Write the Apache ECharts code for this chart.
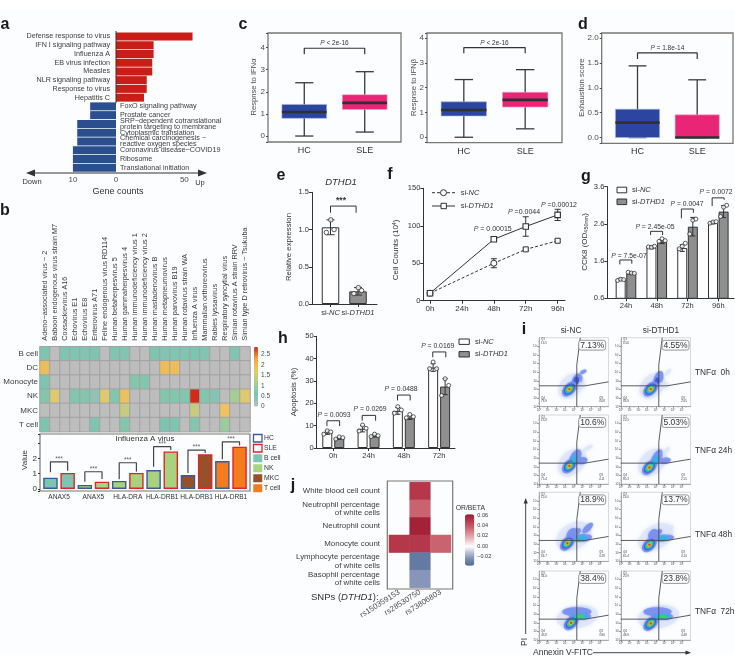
<!DOCTYPE html>
<html><head><meta charset="utf-8"><style>html,body{margin:0;padding:0;background:#fff}#c{width:735px;height:666px}</style>
<script src="https://cdn.jsdelivr.net/npm/echarts@6/dist/echarts.min.js"></script></head><body><div id="c"></div>
<script>
const FONT='"Liberation Sans",Arial,sans-serif', INK='#333', GREY='#4d4d4d', FRAME='#7a7772';
// ---- a
const upPathways=['Defense response to virus','IFN I signaling pathway','Influenza A','EB virus infection','Measles','NLR signaling pathway','Response to virus','Hepatitis C'];
const upCounts=[56,27.5,27.5,26.5,26.5,22.5,22.5,20.5];
const downPathways=['FoxO signaling pathway','Prostate cancer','SRP−dependent cotranslational\nprotein targeting to membrane','Cytoplasmic translation','Chemical carcinogenesis −\nreactive oxygen species','Coronavirus disease−COVID19','Ribosome','Translational initiation'];
const downCounts=[6,6,9,9,9,10,10,10];
// ---- b heatmap
const viruses=['Adeno−associated virus − 2','Baboon endogenous virus strain M7','Coxsackievirus A16','Echovirus E1','Echovirus E8','Enterovirus A71','Feline endogenous virus RD114','Human betaherpesvirus 5','Human gammaherpesvirus 4','Human immunodeficiency virus 1','Human immunodeficiency virus 2','Human mastadenovirus B','Human metapneumovirus','Human parvovirus B19','Human rotavirus strain WA','Influenza A virus','Mammalian orthoreovirus','Rabies lyssavirus','Respiratory syncytial virus','Simian rotavirus A strain RRV','Simian type D retrovirus − Tsukuba'];
const cellTypes=['B cell','DC','Monocyte','NK','MKC','T cell'];
const heatBcell=[.6,0,.6,.55,.55,.6,0,.55,.55,0,0,.6,.55,.55,.55,.6,.55,0,0,.55,0];
const heatDC=[1.9,0,0,0,0,0,0,0,0,0,0,0,1.9,1.9,0,0,0,0,0,0,0];
const heatMono=[.6,0,0,0,0,0,0,0,0,.65,.65,0,0,0,0,0,0,0,0,0,0];
const heatNK=[.65,1.6,0,.65,.65,.4,1.6,.65,1.85,0,0,0,.65,.65,.65,2.85,.65,.5,0,1.1,1.6];
const heatMKC=[0,0,0,0,0,0,0,0,1.4,0,0,0,0,0,0,1.4,0,0,1.8,0,0];
const heatT=[.6,0,0,0,0,.6,0,0,.65,0,0,0,.6,.6,0,.65,0,0,1.0,0,0];
const heatRows=[heatBcell,heatDC,heatMono,heatNK,heatMKC,heatT];
const heatTicks=[0,.5,1,1.5,2,2.5];
// ---- b bars
const fluGenes=['ANAX5','ANAX5','HLA-DRA','HLA-DRB1','HLA-DRB1','HLA-DRB1'];
const fluCellColor=['#7cc5b2','#a9d27f','#a9d27f','#a9d27f','#97512a','#f47c1c'];
const fluHC=[.74,.27,.53,1.24,.91,1.83];
const fluSLE=[1.05,.48,1.05,2.46,2.27,2.77];
const fluBrTop=[1.78,1.13,1.72,2.77,2.55,3.09], fluBrL=[1.1,.47,.64,1.45,1.05,1.95], fluBrR=[1.2,.65,1.15,2.55,2.35,2.85];
// ---- c d boxes: min q1 median q3 max
const boxNames=['HC','SLE'];
const ifnaHC=[0,.8,1.09,1.43,2.41], ifnaSLE=[.18,1.2,1.5,1.87,2.91];
const ifnbHC=[0,.86,1.1,1.43,2.33], ifnbSLE=[.34,1.22,1.51,1.82,2.73];
const exhHC=[0,0,.3,.57,1.44], exhSLE=[0,0,0,.456,1.16];
// ---- e
const eMeans=[1.03,.17], eSd=[.1,.05], ePoints=[[.96,1.13,1.0],[.14,.22,.18]];
// ---- f
const hours5=['0h','24h','48h','72h','96h'], fHours=[0,2,3,4];
const fNC=[10,50,68.5,80], fDT=[10,82,99,114.5], fNCerr=[1.5,6,2,2], fDTerr=[1.5,3,13,7.5];
// ---- g
const gGroups=['24h','48h','72h','96h'];
const gNC=[1.11,1.97,1.95,2.63], gDT=[1.27,2.12,2.525,2.93];
const gNCerr=[.03,.04,.09,.03], gDTerr=[.03,.05,.25,.16];
const gNCpts=[[1.08,1.11,1.1],[1.98,1.97,2.0],[1.93,2.0,2.08],[2.62,2.65,2.66]];
const gDTpts=[[1.3,1.28,1.27],[2.13,2.2,2.15],[2.33,2.7,2.73],[2.8,3.05,3.1]];
// ---- h
const hGroups=['0h','24h','48h','72h'];
const hNC=[6.9,8.6,16.6,36], hDT=[4.4,5.5,13.6,27.5];
const hNCerr=[.8,1.4,1.5,1.7], hDTerr=[.5,.6,.8,3.6];
const hNCpts=[[6.2,7.7,7.2],[7.6,10.3,8.8],[15.6,18.5,17],[35.5,38.5,35.5]];
const hDTpts=[[4,5,4.6],[5.1,6.2,5.5],[13.5,15,14],[23.5,31,28]];
// ---- j
const snps=['rs150359153','rs28530750','rs73806803'];
const traits=['White blood cell count','Neutrophil percentage\nof white cells','Neutrophil count','Monocyte count','Lymphocyte percentage\nof white cells','Basophil percentage\nof white cells'];
const jCol2=[.05,.036,.06,.05,-.031,-.022];
const jMono=[.05,.05,.036];
// ---- i flow: blobs as x, y (axis units), long, short, rotation, density level; cores are x, y
const flowPct=[['7.13%','4.55%'],['10.6%','5.03%'],['18.9%','13.7%'],['38.4%','23.8%']];
const flowQ1=[['13.5','8.56'],['13.8','10.5'],['15.0','16.6'],['34.0','20.9']];
const flowQ4=[['78.9','83.9'],['75.4','85.3'],['66.7','65.4'],['43.8','48.9']];
const flowQ3=[['4.08','2.65'],['4.11','2.55'],['3.28','4.10'],['3.86','4.48']];
const flowRows=['TNFα  0h','TNFα 24h','TNFα 48h','TNFα  72h'];
const flowCores=[[[3.5,2.04],[3.42,2.04]],[[3.5,2.1],[3.27,1.92]],[[3.27,2.1],[3.27,1.92]],[[3.7,2],[3.42,1.92]]];
const flowBlobs=[
 [[[3.7,2.4,30,21,45,0],[4.35,2.9,17,10,70,1],[4.7,2.5,12,7,0,0],[5.1,4.04,7,3.5,30,1],[4.3,3.0,8,5,80,2]],
  [[3.6,2.4,30,21,45,0],[4.3,3.2,17,9,70,1],[4.9,2.5,12,6,0,0],[5.4,4,9,3.5,50,0],[4.15,2.9,8,4,80,2]]],
 [[[3.8,2.5,33,23,45,0],[4.15,3,19,10,60,1],[4.9,2.7,12,7,10,1],[5.6,4.15,12,4,30,0],[4.1,2.9,8,4,70,3]],
  [[3.6,2.5,33,23,45,0],[4.1,3,19,9,60,1],[5.05,2.7,12,6,10,1],[5.2,3.85,10,4,50,0],[3.95,2.8,8,4,70,3]]],
 [[[4,2.9,38,26,30,0],[3.8,3.1,14,10,60,1],[4.9,2.7,21,8,5,1],[5.6,3.85,14,6,45,1],[4.9,2.7,9,3.5,5,3],[4.3,3.4,10,6,30,1]],
  [[4,2.8,38,24,30,0],[3.7,3.08,12,9,60,1],[4.9,2.7,21,7,5,1],[5.5,3.7,12,5,45,0],[4.9,2.7,9,3.5,5,3],[4.2,3.3,10,5,30,1]]],
 [[[4.4,2.7,42,23,10,0],[4.35,3.27,29,9,0,1],[4.75,2.75,22,7,0,1],[4.75,2.75,15,4.5,0,3],[4.75,2.75,9,3,0,4]],
  [[4.3,2.7,42,23,10,0],[4.2,3.27,28,9,0,1],[4.75,2.72,22,7,0,1],[4.75,2.72,15,4.5,0,3],[4.75,2.72,9,3,0,4]]]
];
const flowLevels=['#dbe2fb','#7a92ef','#3a54dc','#26b9e2','#3cd16c','#ece122','#e62d1e'];
const coreLayers=[[18,11,1],[13,8,2],[10,6,3],[7,4.5,4],[4.5,3,5],[2.5,2,6]];
const tenPowers=['10⁰','10¹','10²','10³','10⁴','10⁵','10⁶','10⁷'];
const gateV=[[4.35,0],[4.35,4.85],[4.75,8]], gateH=[[0,2.42],[5.3,2.42],[8,2.88]];

const grids=[],xAxes=[],yAxes=[],series=[],graphic=[];
const baseAxis={splitLine:{show:false},axisLine:{onZero:false,lineStyle:{color:INK,width:1}},axisTick:{lineStyle:{color:INK},length:3}};
function mergeAxis(o){return Object.assign({},baseAxis,o,{axisLine:Object.assign({},baseAxis.axisLine,o.axisLine||{}),axisTick:Object.assign({},baseAxis.axisTick,o.axisTick||{})});}
function addGrid(r,xa,ya,gridOpt){const i=grids.length;grids.push(Object.assign({left:r[0],top:r[1],width:r[2]-r[0],height:r[3]-r[1],show:false,containLabel:false},gridOpt||{}));
 xAxes.push(Object.assign(mergeAxis(xa),{gridIndex:i}));yAxes.push(Object.assign(mergeAxis(ya),{gridIndex:i}));return i;}
function ticksAxis(min,max,vals,fs,fmt,color,extra){return Object.assign({type:'value',min,max,axisLabel:{customValues:vals,fontSize:fs,fontFamily:FONT,color:color||INK,margin:3,hideOverlap:false,formatter:fmt||(v=>String(v))},axisTick:{customValues:vals}},extra||{});}
function txt(x,y,text,o){o=o||{};graphic.push({type:'text',x,y,rotation:(o.rot||0)*Math.PI/180,silent:true,z:o.z||50,style:Object.assign({text,fontFamily:FONT,fontSize:o.fs||8,fill:o.color||INK,fontWeight:o.fw||'normal',fontStyle:o.style||'normal',align:o.align||'center',verticalAlign:'middle',lineHeight:o.lh},o.rich?{rich:o.rich}:{})});}
const italicRich=(fs,color)=>({i:{fontStyle:'italic',fontSize:fs,fontFamily:FONT,fill:color||INK,color:color||INK},n:{fontSize:fs,fontFamily:FONT,color:color||INK}});
function ptxt(x,y,s,fs,color){txt(x,y,'{i|P}{n|'+s+'}',{fs:fs||7,rich:italicRich(fs||7,color||'#444')});}
function rectG(x,y,w,h,fill,stroke,lw,z){graphic.push({type:'rect',silent:true,z:z||40,shape:{x,y,width:w,height:h},style:{fill:fill,stroke:stroke,lineWidth:lw||1}});}
function lineG(pts,color,lw,dash){graphic.push({type:'polyline',silent:true,z:40,shape:{points:pts},style:{stroke:color,lineWidth:lw||1,fill:null,lineDash:dash||null}});}
function triG(pts,color){graphic.push({type:'polygon',silent:true,z:40,shape:{points:pts},style:{fill:color}});}
function bracket(g,x1,x2,top,yl,yr,color,w){series.push({type:'line',xAxisIndex:g,yAxisIndex:g,silent:true,symbol:'none',z:6,animation:false,lineStyle:{color:color||INK,width:w||1},data:[[x1,yl],[x1,top],[x2,top],[x2,yr]]});}
function errorBars(g,rows,capPx,w,z){series.push({type:'custom',xAxisIndex:g,yAxisIndex:g,silent:true,z:z||4,clip:false,data:rows,encode:{x:0,y:[1,2]},renderItem(p,api){const x=api.value(0),a=api.coord([x,api.value(1)]),b=api.coord([x,api.value(2)]);const st={stroke:INK,lineWidth:w||1,fill:null};
 return {type:'group',children:[{type:'line',shape:{x1:a[0],y1:a[1],x2:b[0],y2:b[1]},style:st},{type:'line',shape:{x1:a[0]-capPx,y1:a[1],x2:a[0]+capPx,y2:a[1]},style:st},{type:'line',shape:{x1:b[0]-capPx,y1:b[1],x2:b[0]+capPx,y2:b[1]},style:st}]};}});}
function dots(g,pts,size){series.push({type:'scatter',xAxisIndex:g,yAxisIndex:g,silent:true,z:7,clip:false,symbolSize:size||4.5,itemStyle:{color:'#fff',borderColor:INK,borderWidth:1},data:pts});}

// panel letters
[['a',5,25],['b',5,211],['c',243,25],['d',583,25],['e',281,176],['f',390,175],['g',586,177],['h',283,339],['i',524,330],['j',293,486]].forEach(l=>txt(l[1],l[2],l[0],{fs:16,fw:'bold',color:'#1a1a1a'}));
rectG(0,10,735,645,'#fbfdfe',null,0,-5);

// ===== a
const aRows=upPathways.concat(downPathways);
const aUp=addGrid([116,32,198,172],{type:'value',min:0,max:60,axisLine:{show:false},axisTick:{show:false},axisLabel:{customValues:[0,50],fontSize:8,fontFamily:FONT,color:GREY,margin:4,formatter:v=>String(v)}},
 {type:'category',inverse:true,data:aRows,axisLine:{show:false},axisTick:{show:false},axisLabel:{fontSize:7.2,fontFamily:FONT,color:'#3c3c3c',margin:6,interval:0,formatter:(v,i)=>i<8?v:''}});
series.push({type:'bar',xAxisIndex:aUp,yAxisIndex:aUp,barWidth:8,silent:true,itemStyle:{color:'#cb1d17'},data:upCounts});
const aDn=addGrid([60,32,116,172],{type:'value',inverse:true,min:0,max:13,axisLine:{show:false},axisTick:{show:false},axisLabel:{customValues:[10],fontSize:8,fontFamily:FONT,color:GREY,margin:4,formatter:v=>String(v)}},
 {type:'category',inverse:true,position:'right',data:aRows,axisLine:{show:false},axisTick:{show:false},axisLabel:{fontSize:7.2,lineHeight:6.2,fontFamily:FONT,color:'#3c3c3c',margin:4,interval:0,align:'left',formatter:(v,i)=>i>=8?v:''}});
series.push({type:'bar',xAxisIndex:aDn,yAxisIndex:aDn,barWidth:8,silent:true,itemStyle:{color:'#2b4f8e'},data:Array(8).fill(null).concat(downCounts)});
lineG([[116,31],[116,103]],'#333',1);
lineG([[33,173],[200,173]],'#333',1.2);
triG([[26,173],[35,169.5],[35,176.5]],'#333');triG([[207,173],[198,169.5],[198,176.5]],'#333');
txt(32,182,'Down',{fs:7.5});txt(200,183,'Up',{fs:7.5});txt(118,192,'Gene counts',{fs:9});

// ===== b heatmap
const hmData=[];heatRows.forEach((r,ri)=>r.forEach((v,ci)=>hmData.push([ci,ri,v])));
const hm=addGrid([40,346.7,250,431.7],{type:'category',position:'top',data:viruses,axisLine:{show:false},axisTick:{show:false},axisLabel:{interval:0,rotate:-90,fontSize:7.3,fontFamily:FONT,color:'#3c3c3c',margin:6}},
 {type:'category',inverse:true,data:cellTypes,axisLine:{show:false},axisTick:{show:false},axisLabel:{fontSize:8,fontFamily:FONT,color:'#3c3c3c',margin:2}});
const hmIdx=series.length;
series.push({type:'heatmap',xAxisIndex:hm,yAxisIndex:hm,silent:true,data:hmData,itemStyle:{borderColor:'#a2a2a2',borderWidth:1}});
addGrid([254,346.7,258,406.7],{type:'value',show:false,min:0,max:1},ticksAxis(0,2.86,heatTicks,6.5,null,GREY,{position:'right',axisLine:{show:false},axisTick:{show:false}}));

// ===== b bars
const fb=addGrid([40,434,250,491],ticksAxis(.446,6.554,[1,2,3,4,5,6],6.6,v=>fluGenes[v-1],INK,{axisLine:{show:false},axisTick:{show:false}}),
 ticksAxis(-.13,3.6,[0,1,2],8,null,INK,{axisLine:{show:false},axisTick:{length:2}}),{show:true,borderColor:FRAME,borderWidth:1.2});
series.push({type:'bar',name:'HC',xAxisIndex:fb,yAxisIndex:fb,barWidth:14.5,barGap:'-100%',silent:true,data:fluHC.map((v,i)=>({value:[i+.75,v],itemStyle:{color:fluCellColor[i],borderColor:'#3b5a9c',borderWidth:1.4}}))});
series.push({type:'bar',name:'SLE',xAxisIndex:fb,yAxisIndex:fb,barWidth:14.5,barGap:'-100%',silent:true,data:fluSLE.map((v,i)=>({value:[i+1.25,v],itemStyle:{color:fluCellColor[i],borderColor:'#e0252a',borderWidth:1.4}}))});
fluGenes.forEach((g,i)=>{bracket(fb,i+.75,i+1.25,fluBrTop[i],fluBrL[i],fluBrR[i],'#444',1.2);
 series.push({type:'scatter',xAxisIndex:fb,yAxisIndex:fb,silent:true,symbolSize:0,z:8,data:[[i+1,fluBrTop[i]]],label:{show:true,formatter:'***',position:'top',distance:-1,fontSize:6.5,fontFamily:FONT,color:INK}});});
txt(145,438.5,'Influenza A virus',{fs:8});
txt(25,460,'Value',{fs:8,rot:90});
[['HC',null,'#3b5a9c'],['SLE',null,'#e0252a'],['B cell','#7cc5b2'],['NK','#a9d27f'],['MKC','#97512a'],['T cell','#f47c1c']].forEach((l,i)=>{const y=434.5+i*10;
 rectG(253.5,y,8.5,7.5,l[1]||'#fff',l[2]||l[1],l[2]?1.3:0.5);txt(264,y+3.8,l[0],{fs:6.8,align:'left'});});

// ===== c d
function boxPanel(r,yr,ticks,fmt,hc,sle,brTop,brEnd,pTxt,py,yName,yNameX){
 const g=addGrid(r,ticksAxis(.4,2.6,[1,2],9,v=>boxNames[v-1],INK,{axisLine:{show:false},axisLabel:{customValues:[1,2],fontSize:9,fontFamily:FONT,color:INK,margin:4,formatter:v=>boxNames[v-1]},axisTick:{customValues:[1,2],length:0}}),
  ticksAxis(yr[0],yr[1],ticks,8,fmt,GREY,{axisLine:{show:false},axisTick:{length:2,lineStyle:{color:GREY}}}),{show:true,borderColor:FRAME,borderWidth:1.3});
 const rows=[[1].concat(hc),[2].concat(sle)], fills=['#2b45a0','#e92576'], edge=['#a9b6e6','#f7a5c6'];
 series.push({type:'custom',xAxisIndex:g,yAxisIndex:g,silent:true,data:rows,encode:{x:0,y:[1,2,3,4,5]},renderItem(p,api){
  const x=api.value(0),k=p.dataIndex,c=(a,b)=>api.coord([a,b]);const hw=.37,cw=.15;
  const lo=c(x-hw,api.value(2)),hi=c(x+hw,api.value(4)),mid=[c(x-hw,api.value(3)),c(x+hw,api.value(3))],wl=c(x,api.value(1)),wh=c(x,api.value(5));
  const dark={stroke:'#3a3a3a',lineWidth:1.3,fill:null};
  const seg=(a,b,s)=>({type:'line',shape:{x1:a[0],y1:a[1],x2:b[0],y2:b[1]},style:s});
  return {type:'group',children:[seg(wl,wh,dark),seg(c(x-cw,api.value(1)),c(x+cw,api.value(1)),dark),seg(c(x-cw,api.value(5)),c(x+cw,api.value(5)),dark),
   {type:'rect',shape:{x:lo[0],y:hi[1],width:hi[0]-lo[0],height:lo[1]-hi[1]},style:{fill:fills[k],stroke:edge[k],lineWidth:.6}},
   seg(mid[0],mid[1],{stroke:'#303030',lineWidth:2.6})]};}});
 bracket(g,1,2,brTop,brEnd,brEnd,'#333',1.2);
 const cx=(r[0]+r[2])/2;ptxt(cx,py,pTxt,6.5);
 txt(yNameX,(r[1]+r[3])/2-.5,yName,{fs:7.6,rot:90,color:GREY});
}
boxPanel([268,33,401,142],[-.27,4.66],[0,1,2,3,4],null,ifnaHC,ifnaSLE,3.97,3.7,' < 2e-16',43,'Respnse to IFNα',254);
boxPanel([427,33,562,142.7],[-.22,4.21],[0,1,2,3,4],null,ifnbHC,ifnbSLE,3.62,3.39,' < 2e-16',43,'Respnse to IFNβ',414);
boxPanel([601.7,33,733,143.3],[-.115,2.1],[0,.5,1,1.5,2],v=>v.toFixed(1),exhHC,exhSLE,1.70,1.58,' = 1.8e-14',48,'Exhaustion score',582);

// ===== e
const siLabels=['{n|si-}{i|NC}','{n|si-}{i|DTHD1}'];
const eg=addGrid([312,192.3,377,304],ticksAxis(.327,2.69,[1,2],7.5,v=>siLabels[v-1],INK,{axisLabel:{customValues:[1,2],fontSize:7.5,margin:5,fontFamily:FONT,color:INK,hideOverlap:false,formatter:v=>siLabels[v-1],rich:{i:{fontStyle:'italic',fontSize:7.5,fontFamily:FONT,color:INK},n:{fontSize:7.5,fontFamily:FONT,color:INK}}}}),
 ticksAxis(0,1.5,[0,.5,1,1.5],7.5,v=>v.toFixed(1),INK));
series.push({type:'bar',xAxisIndex:eg,yAxisIndex:eg,barWidth:17.5,barGap:'-100%',silent:true,data:eMeans.map((v,i)=>({value:[i+1,v],itemStyle:{color:i?'#8f8f8f':'#fff',borderColor:INK,borderWidth:1}}))});
errorBars(eg,eMeans.map((v,i)=>[i+1,v-eSd[i],v+eSd[i]]),4);
const jitter=[-.15,.01,.13];
dots(eg,ePoints.flatMap((p,i)=>p.map((v,j)=>[i+1+jitter[j],v])));
bracket(eg,1,1.93,1.315,1.225,1.225,INK,1);
txt(341,200.5,'***',{fs:8.5,fw:'bold'});
txt(341,182,'DTHD1',{fs:9.5,style:'italic'});
txt(289,247,'Relative expression',{fs:7.8,rot:90});

// ===== f
const fg=addGrid([423.3,188.3,565,300.7],ticksAxis(-.21,4.23,[0,1,2,3,4],8,v=>hours5[v],INK,{axisLabel:{customValues:[0,1,2,3,4],fontSize:8,margin:4,fontFamily:FONT,color:INK,formatter:v=>hours5[v]}}),
 ticksAxis(0,150,[0,50,100,150],7.5));
errorBars(fg,fHours.map((h,i)=>[h,fNC[i]-fNCerr[i],fNC[i]+fNCerr[i]]),3);
errorBars(fg,fHours.map((h,i)=>[h,fDT[i]-fDTerr[i],fDT[i]+fDTerr[i]]),3);
series.push({type:'line',name:'si-NC',xAxisIndex:fg,yAxisIndex:fg,silent:true,z:5,lineStyle:{color:INK,width:1,type:[3,2]},itemStyle:{color:'#fff',borderColor:INK,borderWidth:1},showAllSymbol:true,
 data:fHours.map((h,i)=>({value:[h,fNC[i]],symbol:i<2?'circle':'rect',symbolSize:i<2?6:5}))});
series.push({type:'line',name:'si-DTHD1',xAxisIndex:fg,yAxisIndex:fg,silent:true,z:5,lineStyle:{color:INK,width:1},itemStyle:{color:'#fff',borderColor:INK,borderWidth:1.1},symbol:'rect',symbolSize:5.5,showAllSymbol:true,
 data:fHours.map((h,i)=>[h,fDT[i]])});
ptxt(492.7,229.3,' = 0.00015',7);ptxt(524,212.3,' =0.0044',7);ptxt(559,204.7,' =0.00012',7);
lineG([[432,192.7],[455,192.7]],INK,1,[3,2]);graphic.push({type:'circle',silent:true,z:41,shape:{cx:443.5,cy:192.7,r:3},style:{fill:'#fff',stroke:INK}});
lineG([[432,206],[455,206]],INK,1);rectG(441,203.3,5.4,5.4,'#fff',INK,1,41);
txt(460.7,192.7,'{n|si-}{i|NC}',{align:'left',fs:7.5,rich:italicRich(7.5)});
txt(460.7,206,'{n|si-}{i|DTHD1}',{align:'left',fs:7.5,rich:italicRich(7.5)});
txt(396,250,'{n|Cell Counts (10}{s|4}{n|)}',{fs:8,rot:90,rich:{n:{fontSize:8,fontFamily:FONT,color:INK},s:{fontSize:5,fontFamily:FONT,color:INK,verticalAlign:'top'}}});

// ===== g h grouped
function grouped(r,xmin,xmax,yr,yticks,yfmt,names,nc,dt,ncE,dtE,ncP,dtP,off,bw,fs){
 const idx=names.map((n,i)=>i+1);
 const g=addGrid(r,ticksAxis(xmin,xmax,idx,fs,v=>names[v-1],INK,{axisLabel:{customValues:idx,fontSize:fs,margin:4,fontFamily:FONT,color:INK,formatter:v=>names[v-1]}}),ticksAxis(yr[0],yr[1],yticks,7.5,yfmt));
 series.push({type:'bar',name:'si-NC',xAxisIndex:g,yAxisIndex:g,barWidth:bw,barGap:'-100%',silent:true,itemStyle:{color:'#fff',borderColor:INK,borderWidth:1},data:nc.map((v,i)=>[i+1-off,v])});
 series.push({type:'bar',name:'si-DTHD1',xAxisIndex:g,yAxisIndex:g,barWidth:bw,barGap:'-100%',silent:true,itemStyle:{color:'#8f8f8f',borderColor:INK,borderWidth:1},data:dt.map((v,i)=>[i+1+off,v])});
 errorBars(g,nc.map((v,i)=>[i+1-off,v-ncE[i],v+ncE[i]]),2.5);
 errorBars(g,dt.map((v,i)=>[i+1+off,v-dtE[i],v+dtE[i]]),2.5);
 const j=[-.1,0,.1];
 dots(g,ncP.flatMap((p,i)=>p.map((v,k)=>[i+1-off+j[k],v])),4);
 dots(g,dtP.flatMap((p,i)=>p.map((v,k)=>[i+1+off+j[k],v])),4);
 return g;
}
const gg=grouped([607.3,186.7,734,298.3],.393,4.51,[.6,3.6],[.6,1.6,2.6,3.6],v=>v.toFixed(1),gGroups,gNC,gDT,gNCerr,gDTerr,gNCpts,gDTpts,.172,10,7.5);
bracket(gg,.8,1.19,1.63,1.51,1.53);bracket(gg,1.8,2.19,2.4,2.3,2.3);bracket(gg,2.8,3.19,3.0,2.75,2.9);bracket(gg,3.8,4.19,3.3,3.08,3.25);
ptxt(629,256,' = 7.5e-07',6.8);ptxt(655,227,' = 2.45e-05',6.8);ptxt(687,204,' = 0.0047',6.8);ptxt(716,192,' = 0.0072',6.8);
rectG(617,187.2,9.7,5.6,'#fff',INK,1);rectG(617,199,9.7,5.6,'#8f8f8f',INK,1);
txt(632,190,'{n|si-}{i|NC}',{align:'left',fs:7.5,rich:italicRich(7.5)});txt(632,201.8,'{n|si-}{i|DTHD1}',{align:'left',fs:7.5,rich:italicRich(7.5)});
txt(585,242,'{n|CCK8 (OD}{s|450nm}{n|)}',{fs:8,rot:90,rich:{n:{fontSize:8,fontFamily:FONT,color:INK},s:{fontSize:5.5,fontFamily:FONT,color:INK,verticalAlign:'bottom'}}});

const hg=grouped([316.7,336.3,455,448],.53,4.45,[0,50],[0,10,20,30,40,50],null,hGroups,hNC,hDT,hNCerr,hDTerr,hNCpts,hDTpts,.17,10,7.5);
bracket(hg,.82,1.18,12.2,9.8,9.8);bracket(hg,1.82,2.2,14.6,12.2,12.2);bracket(hg,2.82,3.18,23.7,21.3,21.3);bracket(hg,3.82,4.19,43,40.6,40.6);
ptxt(334,415,' = 0.0093',6.8);ptxt(370,409,' = 0.0269',6.8);ptxt(401,389.5,' = 0.0488',6.8);ptxt(437.7,346,' = 0.0169',6.8);
rectG(459,339,10.3,5.4,'#fff',INK,1);rectG(459,351.6,10.3,5.4,'#8f8f8f',INK,1);
txt(475,341.7,'{n|si-}{i|NC}',{align:'left',fs:7.5,rich:italicRich(7.5)});txt(475,354.3,'{n|si-}{i|DTHD1}',{align:'left',fs:7.5,rich:italicRich(7.5)});
txt(294,392,'Apoptosis (%)',{fs:7.8,rot:90});

// ===== j
const jg=addGrid([389,482.3,451,587.7],{type:'category',data:snps,axisLine:{show:false},axisTick:{length:3,alignWithLabel:true,interval:0,lineStyle:{color:'#333'}},axisLabel:{interval:0,rotate:32,fontSize:7.8,fontFamily:FONT,color:GREY,margin:4}},
 {type:'category',inverse:true,data:traits,axisLine:{show:false},axisTick:{length:3.5,alignWithLabel:true,interval:0,lineStyle:{color:'#333'}},axisLabel:{interval:0,fontSize:7.9,lineHeight:8.3,fontFamily:FONT,color:'#3c3c3c',margin:9}});
const jData=jCol2.map((v,i)=>[1,i,v]).concat([[0,3,jMono[0]],[2,3,jMono[2]]]);
const jIdx=series.length;
series.push({type:'heatmap',xAxisIndex:jg,yAxisIndex:jg,silent:true,data:jData,itemStyle:{opacity:1}});
rectG(387.3,481,65.4,108,null,FRAME,1.2,30);
txt(311,597,'{n|SNPs (}{i|DTHD1}{n|):}',{align:'left',fs:9.5,rich:italicRich(9.5)});
txt(455.7,508,'OR/BETA',{align:'left',fs:6.8});
addGrid([465,514.3,474.3,565.7],{type:'value',show:false,min:0,max:1},ticksAxis(-.037,.0615,[-.02,0,.02,.04,.06],5.5,v=>v.toFixed(2).replace('-','−'),INK,{position:'right',axisLine:{show:false},axisTick:{show:false}}));

// ===== i
const colX=[539,621], rowY=[337.7,415,492.3,571];
rowY.forEach((ty,ri)=>colX.forEach((lx,ci)=>{
 const tens=[0,1,2,3,4,5,6,7];
 const tiny={fontSize:3,fontFamily:FONT,color:'#555',margin:1.5,hideOverlap:false};
 const g=addGrid([lx,ty,lx+69.5,ty+69],
  {type:'value',min:0,max:8,axisLine:{lineStyle:{color:'#9a9a9a',width:.8}},axisTick:{customValues:tens,length:2,lineStyle:{color:'#666',width:.6}},minorTick:{show:true,splitNumber:4,length:1,lineStyle:{color:'#888',width:.4}},axisLabel:Object.assign({customValues:tens,formatter:v=>tenPowers[v]},tiny)},
  {type:'value',min:0,max:8,axisLine:{lineStyle:{color:'#9a9a9a',width:.8}},axisTick:{customValues:tens,length:2,lineStyle:{color:'#666',width:.6}},minorTick:{show:true,splitNumber:4,length:1,lineStyle:{color:'#888',width:.4}},axisLabel:Object.assign({customValues:tens,formatter:v=>tenPowers[v]},tiny)},
  {show:true,borderColor:'#cfcfcf',borderWidth:.8});
 const items=[];
 const mk=(b)=>({value:[b[0],b[1]],symbol:'circle',symbolSize:[b[2],b[3]],symbolRotate:b[4],itemStyle:{color:flowLevels[b[5]],opacity:b[5]===0?.7:.88,shadowBlur:b[5]===0?4:2,shadowColor:flowLevels[b[5]]}});
 flowBlobs[ri][ci].filter(b=>b[5]<=2).forEach(b=>items.push(mk(b)));
 const core=flowCores[ri][ci];
 coreLayers.forEach(l=>items.push(mk([core[0],core[1],l[0],l[1],45,l[2]])));
 flowBlobs[ri][ci].filter(b=>b[5]>2).forEach(b=>items.push(mk(b)));
 series.push({type:'scatter',xAxisIndex:g,yAxisIndex:g,silent:true,z:3,data:items});
 [gateV,gateH].forEach(gate=>series.push({type:'line',xAxisIndex:g,yAxisIndex:g,silent:true,symbol:'none',z:5,lineStyle:{color:'#4a4a4a',width:.9},data:gate}));
 txt(lx+2,ty+3.5,'Q1\n'+flowQ1[ri][ci],{fs:3,align:'left',lh:3.4,color:'#444'});
 txt(lx+2,ty+62,'Q4\n'+flowQ4[ri][ci],{fs:3,align:'left',lh:3.4,color:'#444'});
 txt(lx+60,ty+62,'Q3\n'+flowQ3[ri][ci],{fs:3,align:'left',lh:3.4,color:'#444'});
 const bx=lx+(ci?41:39.7), by=ty+2.6;
 graphic.push({type:'rect',silent:true,z:42,shape:{x:bx,y:by,width:27,height:9.8,r:2.5},style:{fill:'#fbfdfe',stroke:'#8a8a8a',lineWidth:.9}});
 txt(bx+13.5,by+5,flowPct[ri][ci],{fs:8.5,color:INK});
}));
txt(571,331,'si-NC',{fs:8.3});txt(661,331,'si-DTHD1',{fs:8.3});
[372.7,450.7,535,611.7].forEach((y,i)=>txt(695,y,flowRows[i],{fs:8.3,align:'left'}));
lineG([[525.7,503],[525.7,634]],'#333',.9);triG([[525.7,498],[523.6,503.5],[527.8,503.5]],'#333');
txt(525,642,'PI',{fs:8.5,rot:90});
txt(533,652.7,'Annexin V-FITC',{fs:8.5,align:'left'});
lineG([[593,652.7],[687,652.7]],'#333',.9);triG([[691,652.7],[685.5,650.6],[685.5,654.8]],'#333');

const chart=echarts.init(document.getElementById('c'),null,{renderer:'canvas'});
chart.setOption({animation:false,backgroundColor:'#fff',textStyle:{fontFamily:FONT},grid:grids,xAxis:xAxes,yAxis:yAxes,series,
 visualMap:[
  {type:'continuous',seriesIndex:hmIdx,dimension:2,min:0,max:2.86,left:254,top:346.7,itemWidth:4,itemHeight:60,padding:0,calculable:false,showLabel:false,text:null,hoverLink:false,inRange:{color:['#bdbdbd','#7cc5b2','#a8cd95','#ecc868','#f0a63e','#cf2a18']}},
  {type:'continuous',seriesIndex:jIdx,dimension:2,min:-.037,max:.0615,left:465,top:514.3,itemWidth:9.3,itemHeight:51.4,padding:0,calculable:false,showLabel:false,text:null,hoverLink:false,inRange:{color:['#4f6a9a','#7a8bb0','#b5bfd4','#ffffff','#eec3c8','#dc8f98','#c9606d','#b53a4c','#a01f35']}}
 ],
 graphic:{elements:graphic}});
</script></body></html>
